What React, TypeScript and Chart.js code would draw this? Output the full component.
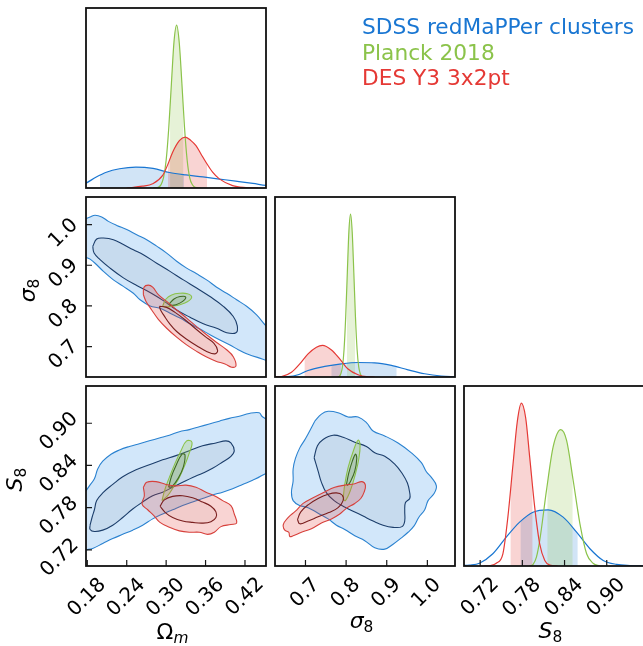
import React, { useEffect, useRef } from "react";
import { Chart, registerables } from "chart.js";

// ------------------------------------------------------------------ data
type Pt = [number, number];

const seriesNames = ["SDSS redMaPPer clusters", "Planck 2018", "DES Y3 3x2pt"];
const seriesColors = ["#1976D2", "#8BC34A", "#E53935"];

const omRange = [0.178, 0.452];
const sig8Range = [0.625, 1.068];
const s8Range = [0.697, 0.953];
const pdfRange = [0, 1.105];

const omTicks = [0.18, 0.24, 0.3, 0.36, 0.42];
const omTickLabels = ["0.18", "0.24", "0.30", "0.36", "0.42"];
const sig8Ticks = [0.7, 0.8, 0.9, 1.0];
const sig8TickLabels = ["0.7", "0.8", "0.9", "1.0"];
const s8Ticks = [0.72, 0.78, 0.84, 0.9];
const s8TickLabels = ["0.72", "0.78", "0.84", "0.90"];

// 1D marginals (x, density) and their 68% shaded intervals
const blueOmPdf: Pt[] = [[0.165, 0.012], [0.178, 0.03], [0.193, 0.066], [0.209, 0.097], [0.229, 0.118], [0.254, 0.128], [0.28, 0.12], [0.305, 0.095], [0.33, 0.08], [0.356, 0.068], [0.381, 0.055], [0.406, 0.042], [0.432, 0.028], [0.452, 0.016], [0.465, 0.01]];
const greenOmPdf: Pt[] = [[0.28, 0], [0.288, 0.004], [0.292, 0.019], [0.296, 0.063], [0.3, 0.17], [0.304, 0.37], [0.308, 0.64], [0.312, 0.9], [0.316, 1.0], [0.32, 0.89], [0.324, 0.64], [0.328, 0.37], [0.332, 0.17], [0.336, 0.06], [0.34, 0.02], [0.344, 0.004], [0.352, 0]];
const redOmPdf: Pt[] = [[0.24, 0], [0.264, 0.011], [0.2795, 0.026], [0.2947, 0.077], [0.3023, 0.142], [0.3099, 0.22], [0.3201, 0.291], [0.3292, 0.312], [0.3378, 0.291], [0.3454, 0.26], [0.353, 0.209], [0.3606, 0.158], [0.3707, 0.097], [0.3809, 0.056], [0.4012, 0.015], [0.4215, 0.003], [0.44, 0]];
const blueOmShade = [0.1994, 0.327];
const greenOmShade = [0.306, 0.326];
const redOmShade = [0.303, 0.362];

const blueSig8Pdf: Pt[] = [[0.6, 0], [0.63, 0.0005], [0.657, 0.002], [0.682, 0.0135], [0.7064, 0.04], [0.7475, 0.065], [0.7885, 0.081], [0.8293, 0.089], [0.87, 0.087], [0.9115, 0.071], [0.9523, 0.044], [0.9933, 0.02], [1.034, 0.006], [1.07, 0.001]];
const greenSig8Pdf: Pt[] = [[0.779, 0], [0.783, 0.004], [0.787, 0.019], [0.791, 0.063], [0.795, 0.17], [0.799, 0.37], [0.803, 0.64], [0.807, 0.9], [0.811, 1.0], [0.815, 0.89], [0.819, 0.64], [0.823, 0.37], [0.827, 0.17], [0.831, 0.063], [0.835, 0.019], [0.839, 0.004], [0.843, 0]];
const redSig8Pdf: Pt[] = [[0.62, 0], [0.641, 0.003], [0.6656, 0.029], [0.686, 0.08], [0.7064, 0.142], [0.727, 0.183], [0.7418, 0.194], [0.764, 0.166], [0.7843, 0.111], [0.8047, 0.049], [0.8293, 0.014], [0.85, 0.002], [0.87, 0]];
const blueSig8Shade = [0.764, 0.924];
const greenSig8Shade = [0.802, 0.822];
const redSig8Shade = [0.698, 0.787];

const blueS8Pdf: Pt[] = [[0.69, 0.002], [0.705, 0.006], [0.719, 0.017], [0.738, 0.075], [0.7571, 0.177], [0.7761, 0.269], [0.7951, 0.33], [0.8166, 0.345], [0.838, 0.3], [0.8571, 0.208], [0.8761, 0.106], [0.895, 0.034], [0.914, 0.01], [0.933, 0.003], [0.96, 0]];
const greenS8Pdf: Pt[] = [[0.79, 0], [0.7953, 0.01], [0.8, 0.054], [0.8047, 0.157], [0.8143, 0.464], [0.8237, 0.73], [0.8347, 0.837], [0.8429, 0.771], [0.8523, 0.525], [0.8619, 0.259], [0.8714, 0.075], [0.881, 0.015], [0.89, 0]];
const redS8Pdf: Pt[] = [[0.725, 0], [0.734, 0.003], [0.7429, 0.017], [0.7523, 0.075], [0.7594, 0.3], [0.7666, 0.62], [0.7729, 0.89], [0.7786, 1.0], [0.7847, 0.91], [0.7904, 0.67], [0.7976, 0.36], [0.8047, 0.135], [0.8119, 0.034], [0.819, 0.005], [0.83, 0]];
const blueS8Shade = [0.7776, 0.8586];
const greenS8Shade = [0.8157, 0.8514];
const redS8Shade = [0.7633, 0.7943];

// 2D contours (68% inner, 95% outer)
const blueOmSig8Outer: Pt[] = [[0.174, 1.012], [0.1842, 1.019], [0.1918, 1.023], [0.2019, 1.019], [0.2121, 1.008], [0.2248, 0.998], [0.24, 0.988], [0.2552, 0.975], [0.2704, 0.963], [0.2856, 0.947], [0.3008, 0.93], [0.316, 0.91], [0.3312, 0.893], [0.3464, 0.879], [0.3616, 0.864], [0.3769, 0.846], [0.3921, 0.831], [0.4073, 0.815], [0.4225, 0.799], [0.4377, 0.778], [0.4519, 0.751], [0.46, 0.74], [0.46, 0.668], [0.4377, 0.674], [0.4225, 0.682], [0.4098, 0.692], [0.3971, 0.704], [0.3819, 0.716], [0.3667, 0.729], [0.3515, 0.743], [0.3363, 0.756], [0.3211, 0.77], [0.3059, 0.782], [0.2907, 0.794], [0.2755, 0.8], [0.2603, 0.815], [0.2501, 0.831], [0.2349, 0.848], [0.2197, 0.864], [0.2045, 0.885], [0.1918, 0.905], [0.1842, 0.915], [0.174, 0.926]];
const blueOmSig8Inner: Pt[] = [[0.1883, 0.9465], [0.1943, 0.9646], [0.2045, 0.967], [0.2197, 0.963], [0.2349, 0.951], [0.2501, 0.938], [0.2653, 0.926], [0.2856, 0.905], [0.3059, 0.885], [0.3262, 0.864], [0.3464, 0.844], [0.3667, 0.823], [0.387, 0.799], [0.4022, 0.774], [0.4083, 0.751], [0.4063, 0.734], [0.3921, 0.734], [0.3769, 0.745], [0.3566, 0.756], [0.3363, 0.772], [0.316, 0.79], [0.2957, 0.813], [0.2755, 0.833], [0.2552, 0.85], [0.2349, 0.869], [0.2146, 0.893], [0.1994, 0.914], [0.1903, 0.93]];
const greenOmSig8Outer: Pt[] = [[0.2947, 0.8], [0.2998, 0.817], [0.3084, 0.827], [0.3201, 0.831], [0.3323, 0.83], [0.3389, 0.822], [0.3323, 0.81], [0.3211, 0.803], [0.3084, 0.799], [0.2983, 0.797]];
const greenOmSig8Inner: Pt[] = [[0.3049, 0.805], [0.312, 0.817], [0.3211, 0.823], [0.3297, 0.822], [0.3252, 0.811], [0.315, 0.803], [0.3069, 0.802]];
const redOmSig8Outer: Pt[] = [[0.2653, 0.8273], [0.2663, 0.846], [0.2729, 0.851], [0.2795, 0.846], [0.2881, 0.828], [0.3008, 0.811], [0.316, 0.79], [0.3312, 0.77], [0.3464, 0.749], [0.3616, 0.729], [0.3769, 0.71], [0.3921, 0.692], [0.4022, 0.675], [0.4063, 0.652], [0.3997, 0.649], [0.3896, 0.657], [0.3758, 0.664], [0.3616, 0.674], [0.3464, 0.688], [0.3312, 0.704], [0.316, 0.723], [0.3008, 0.745], [0.2881, 0.767], [0.278, 0.79], [0.2694, 0.811]];
const redOmSig8Inner: Pt[] = [[0.2897, 0.799], [0.2998, 0.797], [0.3135, 0.784], [0.3287, 0.766], [0.3439, 0.745], [0.3591, 0.725], [0.3728, 0.708], [0.3784, 0.69], [0.3743, 0.682], [0.3616, 0.688], [0.3464, 0.702], [0.3312, 0.718], [0.316, 0.737], [0.3049, 0.757], [0.2968, 0.776], [0.2917, 0.789]];

const blueOmS8Outer: Pt[] = [[0.173, 0.797], [0.1832, 0.811], [0.1908, 0.821], [0.1958, 0.835], [0.2035, 0.846], [0.2161, 0.856], [0.2288, 0.862], [0.244, 0.867], [0.2592, 0.871], [0.2744, 0.875], [0.2896, 0.879], [0.3049, 0.883], [0.3201, 0.888], [0.3353, 0.891], [0.3505, 0.895], [0.3657, 0.899], [0.3809, 0.903], [0.3961, 0.907], [0.4113, 0.91], [0.4265, 0.914], [0.4417, 0.915], [0.4458, 0.91], [0.452, 0.906], [0.458, 0.9], [0.458, 0.835], [0.4443, 0.825], [0.4316, 0.819], [0.4164, 0.813], [0.4012, 0.807], [0.386, 0.802], [0.3707, 0.798], [0.3555, 0.793], [0.3403, 0.788], [0.3251, 0.783], [0.3099, 0.777], [0.2947, 0.771], [0.2795, 0.764], [0.2643, 0.755], [0.2491, 0.748], [0.2339, 0.742], [0.2187, 0.736], [0.2035, 0.729], [0.1882, 0.722], [0.1781, 0.72], [0.173, 0.719]];
const blueOmS8Inner: Pt[] = [[0.1842, 0.755], [0.1872, 0.766], [0.1908, 0.777], [0.1943, 0.79], [0.2035, 0.801], [0.2187, 0.813], [0.2339, 0.824], [0.2542, 0.834], [0.2744, 0.841], [0.2947, 0.848], [0.315, 0.854], [0.3353, 0.861], [0.3555, 0.868], [0.3758, 0.872], [0.391, 0.875], [0.3986, 0.872], [0.4037, 0.861], [0.3986, 0.853], [0.386, 0.845], [0.3707, 0.836], [0.3555, 0.829], [0.3403, 0.823], [0.3251, 0.816], [0.3099, 0.809], [0.2947, 0.802], [0.2795, 0.797], [0.2643, 0.788], [0.2491, 0.778], [0.2339, 0.766], [0.2187, 0.755], [0.2035, 0.748], [0.1908, 0.746], [0.1842, 0.749]];
const greenOmS8Outer: Pt[] = [[0.2937, 0.79], [0.2978, 0.805], [0.3049, 0.823], [0.314, 0.844], [0.3226, 0.861], [0.3312, 0.875], [0.3393, 0.873], [0.3353, 0.858], [0.3282, 0.84], [0.3201, 0.823], [0.311, 0.809], [0.3023, 0.797]];
const greenOmS8Inner: Pt[] = [[0.3038, 0.809], [0.3079, 0.824], [0.315, 0.84], [0.3241, 0.856], [0.3287, 0.855], [0.3262, 0.838], [0.3185, 0.822], [0.3089, 0.81]];
const redOmS8Outer: Pt[] = [[0.2653, 0.809], [0.2704, 0.816], [0.2846, 0.817], [0.2998, 0.813], [0.315, 0.811], [0.3302, 0.812], [0.3454, 0.809], [0.3606, 0.802], [0.3733, 0.797], [0.386, 0.79], [0.3986, 0.783], [0.4037, 0.771], [0.4073, 0.758], [0.3986, 0.756], [0.3834, 0.753], [0.3733, 0.745], [0.3632, 0.742], [0.3505, 0.745], [0.3353, 0.745], [0.3201, 0.747], [0.3049, 0.752], [0.2906, 0.759], [0.282, 0.768], [0.2719, 0.777], [0.2633, 0.785], [0.2668, 0.797]];
const redOmS8Inner: Pt[] = [[0.2907, 0.782], [0.2973, 0.791], [0.3099, 0.796], [0.3251, 0.797], [0.3403, 0.794], [0.3555, 0.788], [0.3682, 0.782], [0.3758, 0.774], [0.3758, 0.766], [0.3682, 0.76], [0.3555, 0.758], [0.3403, 0.759], [0.3251, 0.761], [0.3099, 0.766], [0.2988, 0.773]];

const blueSig8S8Outer: Pt[] = [[0.7229, 0.903], [0.7393, 0.913], [0.7557, 0.917], [0.7803, 0.915], [0.8049, 0.909], [0.8295, 0.909], [0.85, 0.901], [0.8664, 0.889], [0.8951, 0.882], [0.9279, 0.872], [0.9607, 0.858], [0.9853, 0.844], [0.9976, 0.831], [1.0099, 0.823], [1.0222, 0.811], [1.0165, 0.8], [1.0017, 0.79], [0.9935, 0.777], [0.9787, 0.766], [0.9673, 0.754], [0.9525, 0.745], [0.9361, 0.737], [0.9156, 0.728], [0.8951, 0.721], [0.8705, 0.723], [0.8459, 0.733], [0.8213, 0.74], [0.7967, 0.749], [0.7762, 0.755], [0.7557, 0.764], [0.7311, 0.772], [0.7065, 0.78], [0.686, 0.783], [0.6696, 0.79], [0.6655, 0.802], [0.6696, 0.818], [0.6696, 0.835], [0.6753, 0.85], [0.686, 0.865], [0.6999, 0.878]];
const blueSig8S8Inner: Pt[] = [[0.7213, 0.851], [0.7295, 0.868], [0.7434, 0.877], [0.768, 0.883], [0.7926, 0.88], [0.8213, 0.873], [0.85, 0.867], [0.8705, 0.858], [0.8951, 0.853], [0.9197, 0.842], [0.9377, 0.829], [0.9509, 0.815], [0.9566, 0.801], [0.9566, 0.793], [0.9459, 0.787], [0.9443, 0.775], [0.9443, 0.761], [0.9377, 0.753], [0.9156, 0.752], [0.891, 0.755], [0.8664, 0.761], [0.8418, 0.768], [0.8172, 0.775], [0.7926, 0.782], [0.7705, 0.79], [0.7516, 0.801], [0.7393, 0.816], [0.7311, 0.832]];
const greenSig8S8Outer: Pt[] = [[0.7926, 0.792], [0.7967, 0.813], [0.8049, 0.837], [0.818, 0.861], [0.8295, 0.876], [0.8344, 0.869], [0.8311, 0.849], [0.8229, 0.828], [0.8115, 0.806], [0.7983, 0.79]];
const greenSig8S8Inner: Pt[] = [[0.8008, 0.813], [0.8065, 0.829], [0.8147, 0.845], [0.8229, 0.856], [0.8262, 0.85], [0.8213, 0.832], [0.8115, 0.818], [0.8041, 0.812]];
const redSig8S8Outer: Pt[] = [[0.6475, 0.759], [0.6589, 0.767], [0.6753, 0.775], [0.6942, 0.786], [0.7188, 0.794], [0.7459, 0.802], [0.7721, 0.809], [0.7967, 0.812], [0.8213, 0.814], [0.8393, 0.817], [0.8475, 0.812], [0.8443, 0.802], [0.8361, 0.793], [0.8213, 0.786], [0.8008, 0.779], [0.7844, 0.771], [0.7639, 0.764], [0.7393, 0.758], [0.7147, 0.75], [0.6901, 0.745], [0.6696, 0.74], [0.6614, 0.739], [0.6589, 0.745], [0.6491, 0.748], [0.645, 0.754]];
const redSig8S8Inner: Pt[] = [[0.6803, 0.763], [0.6885, 0.774], [0.7065, 0.784], [0.7311, 0.793], [0.7557, 0.799], [0.7762, 0.801], [0.7901, 0.798], [0.7926, 0.79], [0.7803, 0.78], [0.7574, 0.773], [0.7311, 0.767], [0.7065, 0.761], [0.686, 0.757]];

// ------------------------------------------------------------------ styles
const STYLE = {
  blue: { line: "#1976D2", shade: "rgba(25,118,210,0.2)", outerFill: "rgba(30,136,229,0.2)", outerLine: "#2A82D0", innerFill: "rgba(95,105,125,0.1)", innerLine: "#1C3E6B" },
  green: { line: "#8BC34A", shade: "rgba(139,195,74,0.22)", outerFill: "rgba(150,195,70,0.25)", outerLine: "#8BC34A", innerFill: "rgba(70,100,40,0.1)", innerLine: "#3F6B22" },
  red: { line: "#E53935", shade: "rgba(229,57,53,0.22)", outerFill: "rgba(229,57,53,0.22)", outerLine: "#D7403B", innerFill: "rgba(120,60,60,0.06)", innerLine: "#7A1F1F" },
};

const CW = 650;
const CH = 646;
const COLS = [86, 275, 464];
const ROWS = [8, 197, 386];
const SIZE = 180;
const FONT = '"DejaVu Sans", "Liberation Sans", sans-serif';
const TICK_SIZE = 20;
const TITLE_SIZE = 22;

// ------------------------------------------------------------------ plugin: clip 1D shading to its interval
const shadeClip = {
  id: "shadeClip",
  beforeDatasetDraw(chart: any, args: any) {
    const ds = chart.data.datasets[args.index];
    if (!ds || !ds.shadeRange) return;
    const a = chart.chartArea;
    const xs = chart.scales.x;
    const x0 = xs.getPixelForValue(ds.shadeRange[0]);
    const x1 = xs.getPixelForValue(ds.shadeRange[1]);
    chart.ctx.save();
    chart.ctx.beginPath();
    chart.ctx.rect(x0, a.top, x1 - x0, a.bottom - a.top);
    chart.ctx.clip();
  },
  afterDatasetDraw(chart: any, args: any) {
    const ds = chart.data.datasets[args.index];
    if (ds && ds.shadeRange) chart.ctx.restore();
  },
};
Chart.register(shadeClip);
Chart.register(...registerables);

// ------------------------------------------------------------------ helpers
type Run = { t: string; it?: boolean; sub?: boolean };

interface PanelCfg {
  col: number;
  row: number;
  xRange: number[];
  yRange: number[];
  layers: any[];
  xTicks?: number[];
  xTickLabels?: string[];
  yTicks?: number[];
  yTickLabels?: string[];
  xTitle?: Run[];
  xTitleBase?: number;
  yTitle?: Run[];
  yTitleBase?: number;
  legend?: boolean;
}

const xy = (pts: Pt[]) => pts.map(([x, y]) => ({ x, y }));

function contourLayers(outer: Pt[], inner: Pt[], st: any) {
  return [
    { data: xy([...outer, outer[0]]), fill: "shape", backgroundColor: st.outerFill, borderColor: st.outerLine, borderWidth: 1.1, tension: 0.4 },
    { data: xy([...inner, inner[0]]), fill: "shape", backgroundColor: st.innerFill, borderColor: st.innerLine, borderWidth: 1.1, tension: 0.4 },
  ];
}
function shadeLayer(pdf: Pt[], range: number[], st: any) {
  return { data: xy(pdf), fill: "origin", backgroundColor: st.shade, borderWidth: 0, borderColor: "rgba(0,0,0,0)", cubicInterpolationMode: "monotone", shadeRange: range };
}
function curveLayer(pdf: Pt[], st: any) {
  return { data: xy(pdf), fill: false, borderColor: st.line, borderWidth: 1.2, cubicInterpolationMode: "monotone" };
}
function pdfLayers(b: Pt[], bs: number[], g: Pt[], gs: number[], r: Pt[], rs: number[]) {
  return [
    shadeLayer(b, bs, STYLE.blue), shadeLayer(g, gs, STYLE.green), shadeLayer(r, rs, STYLE.red),
    curveLayer(b, STYLE.blue), curveLayer(g, STYLE.green), curveLayer(r, STYLE.red),
  ];
}

const OM_T: Run[] = [{ t: "Ω" }, { t: "m", it: true, sub: true }];
const SIG8_T: Run[] = [{ t: "σ", it: true }, { t: "8", sub: true }];
const S8_T: Run[] = [{ t: "S", it: true }, { t: "8", sub: true }];

const PANELS: PanelCfg[] = [
  {
    col: 0, row: 0, xRange: omRange, yRange: pdfRange, legend: true,
    layers: pdfLayers(blueOmPdf, blueOmShade, greenOmPdf, greenOmShade, redOmPdf, redOmShade),
  },
  {
    col: 0, row: 1, xRange: omRange, yRange: sig8Range,
    layers: [
      ...contourLayers(blueOmSig8Outer, blueOmSig8Inner, STYLE.blue),
      ...contourLayers(greenOmSig8Outer, greenOmSig8Inner, STYLE.green),
      ...contourLayers(redOmSig8Outer, redOmSig8Inner, STYLE.red),
    ],
    yTicks: sig8Ticks, yTickLabels: sig8TickLabels, yTitle: SIG8_T, yTitleBase: 35,
  },
  {
    col: 1, row: 1, xRange: sig8Range, yRange: pdfRange,
    layers: pdfLayers(blueSig8Pdf, blueSig8Shade, greenSig8Pdf, greenSig8Shade, redSig8Pdf, redSig8Shade),
  },
  {
    col: 0, row: 2, xRange: omRange, yRange: s8Range,
    layers: [
      ...contourLayers(blueOmS8Outer, blueOmS8Inner, STYLE.blue),
      ...contourLayers(greenOmS8Outer, greenOmS8Inner, STYLE.green),
      ...contourLayers(redOmS8Outer, redOmS8Inner, STYLE.red),
    ],
    xTicks: omTicks, xTickLabels: omTickLabels, xTitle: OM_T, xTitleBase: 639,
    yTicks: s8Ticks, yTickLabels: s8TickLabels, yTitle: S8_T, yTitleBase: 22,
  },
  {
    col: 1, row: 2, xRange: sig8Range, yRange: s8Range,
    layers: [
      ...contourLayers(blueSig8S8Outer, blueSig8S8Inner, STYLE.blue),
      ...contourLayers(greenSig8S8Outer, greenSig8S8Inner, STYLE.green),
      ...contourLayers(redSig8S8Outer, redSig8S8Inner, STYLE.red),
    ],
    xTicks: sig8Ticks, xTickLabels: sig8TickLabels, xTitle: SIG8_T, xTitleBase: 628,
  },
  {
    col: 2, row: 2, xRange: s8Range, yRange: pdfRange,
    layers: pdfLayers(blueS8Pdf, blueS8Shade, greenS8Pdf, greenS8Shade, redS8Pdf, redS8Shade),
    xTicks: s8Ticks, xTickLabels: s8TickLabels, xTitle: S8_T, xTitleBase: 638,
  },
];

const C45 = Math.SQRT1_2;
function rotBox(ctx: CanvasRenderingContext2D, text: string) {
  const m = ctx.measureText(text);
  const xsA = [-m.actualBoundingBoxLeft, m.actualBoundingBoxRight];
  const ysA = [-m.actualBoundingBoxAscent, m.actualBoundingBoxDescent];
  let minX = Infinity, maxX = -Infinity, minY = Infinity, maxY = -Infinity;
  for (const x of xsA) for (const y of ysA) {
    const rx = C45 * (x + y);
    const ry = C45 * (y - x);
    minX = Math.min(minX, rx); maxX = Math.max(maxX, rx);
    minY = Math.min(minY, ry); maxY = Math.max(maxY, ry);
  }
  return { minX, maxX, minY, maxY };
}

function runFont(r: Run) {
  const s = r.sub ? TITLE_SIZE * 0.7 : TITLE_SIZE;
  return `${r.it ? "italic " : ""}${s}px ${FONT}`;
}
function runsWidth(ctx: CanvasRenderingContext2D, runs: Run[]) {
  let w = 0;
  for (const r of runs) { ctx.font = runFont(r); w += ctx.measureText(r.t).width; }
  return w;
}
function drawRuns(ctx: CanvasRenderingContext2D, runs: Run[], x: number, y: number) {
  let cx = x;
  for (const r of runs) {
    ctx.font = runFont(r);
    ctx.fillText(r.t, cx, y + (r.sub ? TITLE_SIZE * 0.2 : 0));
    cx += ctx.measureText(r.t).width;
  }
}

function makeDecor(cfg: PanelCfg) {
  return {
    id: "decor",
    afterDraw(chart: any) {
      const ctx = chart.ctx as CanvasRenderingContext2D;
      const a = chart.chartArea;
      const xs = chart.scales.x;
      const ys = chart.scales.y;
      ctx.save();
      // inward tick marks
      ctx.strokeStyle = "#1a1a1a";
      ctx.lineWidth = 1.2;
      ctx.beginPath();
      (cfg.xTicks || []).forEach((v) => {
        const p = xs.getPixelForValue(v);
        ctx.moveTo(p, a.bottom); ctx.lineTo(p, a.bottom - 6);
      });
      (cfg.yTicks || []).forEach((v) => {
        const p = ys.getPixelForValue(v);
        ctx.moveTo(a.left, p); ctx.lineTo(a.left + 6, p);
      });
      ctx.stroke();
      // frame
      ctx.lineWidth = 1.8;
      ctx.strokeStyle = "#111";
      ctx.strokeRect(a.left, a.top, a.right - a.left, a.bottom - a.top);
      // tick labels, rotated 45 degrees
      ctx.fillStyle = "#000";
      ctx.textAlign = "left";
      ctx.textBaseline = "alphabetic";
      ctx.font = `${TICK_SIZE}px ${FONT}`;
      (cfg.xTicks || []).forEach((v, i) => {
        const label = (cfg.xTickLabels || [])[i];
        const b = rotBox(ctx, label);
        const p = xs.getPixelForValue(v);
        const ox = p - 1.5 - (b.minX + b.maxX) / 2;
        const oy = a.bottom + 10 - b.minY;
        ctx.save(); ctx.translate(ox, oy); ctx.rotate(-Math.PI / 4); ctx.fillText(label, 0, 0); ctx.restore();
      });
      (cfg.yTicks || []).forEach((v, i) => {
        const label = (cfg.yTickLabels || [])[i];
        const b = rotBox(ctx, label);
        const p = ys.getPixelForValue(v);
        const ox = a.left - 8 - b.maxX;
        const oy = p + 7 - (b.minY + b.maxY) / 2;
        ctx.save(); ctx.translate(ox, oy); ctx.rotate(-Math.PI / 4); ctx.fillText(label, 0, 0); ctx.restore();
      });
      // axis titles
      if (cfg.xTitle) {
        const w = runsWidth(ctx, cfg.xTitle);
        const cx = (a.left + a.right) / 2 - 3.5;
        drawRuns(ctx, cfg.xTitle, cx - w / 2, cfg.xTitleBase || 0);
      }
      if (cfg.yTitle) {
        const w = runsWidth(ctx, cfg.yTitle);
        const cy = (a.top + a.bottom) / 2 + 3.5;
        ctx.save();
        ctx.translate(cfg.yTitleBase || 0, cy);
        ctx.rotate(-Math.PI / 2);
        drawRuns(ctx, cfg.yTitle, -w / 2, 0);
        ctx.restore();
      }
      // legend text
      if (cfg.legend) {
        ctx.font = `21.7px ${FONT}`;
        const baselines = [34.3, 60, 85.4];
        seriesNames.forEach((n, i) => {
          ctx.fillStyle = seriesColors[i];
          ctx.fillText(n, 362, baselines[i]);
        });
      }
      ctx.restore();
    },
  };
}

function buildConfig(cfg: PanelCfg): any {
  const L = COLS[cfg.col];
  const T = ROWS[cfg.row];
  const datasets = cfg.layers
    .map((d) => ({ pointRadius: 0, pointHoverRadius: 0, spanGaps: true, ...d }))
    .reverse(); // Chart.js paints dataset 0 on top
  return {
    type: "line",
    data: { datasets },
    options: {
      animation: false,
      responsive: false,
      devicePixelRatio: 1,
      events: [],
      layout: { padding: { left: L, top: T, right: CW - (L + SIZE), bottom: CH - (T + SIZE) } },
      scales: {
        x: { type: "linear", min: cfg.xRange[0], max: cfg.xRange[1], display: false },
        y: { type: "linear", min: cfg.yRange[0], max: cfg.yRange[1], display: false },
      },
      elements: { line: { capBezierPoints: false }, point: { radius: 0 } },
      plugins: { legend: { display: false }, tooltip: { enabled: false } },
    },
    plugins: [makeDecor(cfg)],
  };
}

function PanelChart({ cfg }: { cfg: PanelCfg }) {
  const ref = useRef<HTMLCanvasElement>(null);
  useEffect(() => {
    const chart = new Chart(ref.current as HTMLCanvasElement, buildConfig(cfg));
    return () => chart.destroy();
  }, [cfg]);
  return <canvas ref={ref} width={CW} height={CH} style={{ position: "absolute", left: 0, top: 0 }} />;
}

export default function App() {
  return (
    <div style={{ position: "absolute", left: 0, top: 0, width: 643, height: 646, overflow: "hidden", background: "#fff" }}>
      {PANELS.map((p, i) => (
        <PanelChart key={i} cfg={p} />
      ))}
    </div>
  );
}
